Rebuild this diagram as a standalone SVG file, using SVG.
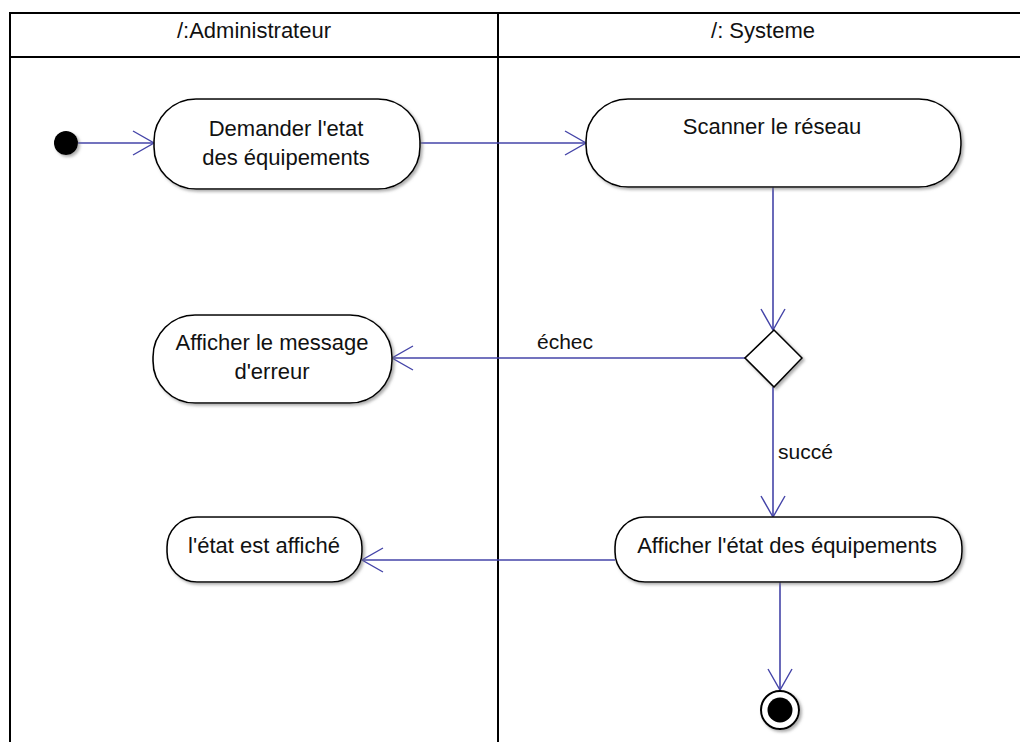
<svg xmlns="http://www.w3.org/2000/svg" width="1020" height="742" viewBox="0 0 1020 742">
  <defs>
    <style>
      .lane { fill: none; stroke: #000; stroke-width: 2; }
      .node { fill: #fff; stroke: #000; stroke-width: 1.6; filter: url(#shadow); }
      .txt { font-family: "Liberation Sans", Arial, sans-serif; font-size: 22px; fill: #111; text-anchor: middle; }
      .hdr { font-family: "Liberation Sans", Arial, sans-serif; font-size: 22px; fill: #111; text-anchor: middle; }
      .lbl { font-family: "Liberation Sans", Arial, sans-serif; font-size: 21px; fill: #111; }
      .flow { fill: none; stroke: #4444a8; stroke-width: 1.6; marker-end: url(#open); }
    </style>
    <filter id="shadow" x="-10%" y="-10%" width="130%" height="140%">
      <feDropShadow dx="2" dy="2" stdDeviation="1.5" flood-color="#777" flood-opacity="0.6"/>
    </filter>
    <marker id="open" markerUnits="userSpaceOnUse" markerWidth="30" markerHeight="30" viewBox="-24 -15 26 30" refX="0" refY="0" orient="auto">
      <path d="M -21 -12 L 0 0 L -21 12" fill="none" stroke="#4444a8" stroke-width="1.4"/>
    </marker>
  </defs>

  <!-- swimlanes -->
  <g id="swimlanes">
    <path class="lane" d="M 1022 13 H 10 V 744 M 10 57 H 1022 M 498 13 V 744"/>
    <text class="hdr" x="254" y="38">/:Administrateur</text>
    <text class="hdr" x="763" y="38">/: Systeme</text>
  </g>

  <!-- connectors -->
  <g id="connectors">
    <path class="flow" d="M 77 143 H 154"/>
    <path class="flow" d="M 420 143 H 586"/>
    <path class="flow" d="M 773 187 V 330"/>
    <path class="flow" d="M 745 358 H 392"/>
    <text class="lbl" x="537" y="349">échec</text>
    <path class="flow" d="M 773 387 V 517"/>
    <text class="lbl" x="778" y="459">succé</text>
    <path class="flow" d="M 615 560 H 362"/>
    <path class="flow" d="M 780 582 V 690"/>
  </g>

  <!-- initial node -->
  <g id="start">
    <circle cx="66" cy="143" r="12" fill="#000" filter="url(#shadow)"/>
  </g>

  <g id="demander">
    <rect class="node" x="154" y="99" width="266" height="90" rx="42" ry="42"/>
    <text class="txt" x="286" y="136">Demander l'etat</text>
    <text class="txt" x="286" y="165">des équipements</text>
  </g>

  <g id="scanner">
    <rect class="node" x="586" y="99" width="375" height="88" rx="42" ry="42"/>
    <text class="txt" x="772" y="134">Scanner le réseau</text>
  </g>

  <g id="decision">
    <polygon class="node" points="774,330 802,358 774,387 745,358"/>
  </g>

  <g id="erreur">
    <rect class="node" x="153" y="315" width="239" height="88" rx="42" ry="42"/>
    <text class="txt" x="272" y="350">Afficher le message</text>
    <text class="txt" x="272" y="379">d'erreur</text>
  </g>

  <g id="afficherEtat">
    <rect class="node" x="615" y="517" width="347" height="65" rx="30" ry="30"/>
    <text class="txt" x="787" y="553">Afficher l'état des équipements</text>
  </g>

  <g id="etatAffiche">
    <rect class="node" x="167" y="517" width="195" height="65" rx="30" ry="30"/>
    <text class="txt" x="264" y="553">l'état est affiché</text>
  </g>

  <!-- final node -->
  <g id="end">
    <circle cx="780" cy="710" r="19" fill="#fff" stroke="#000" stroke-width="2" filter="url(#shadow)"/>
    <circle cx="780" cy="710" r="12.5" fill="#000"/>
  </g>
</svg>
